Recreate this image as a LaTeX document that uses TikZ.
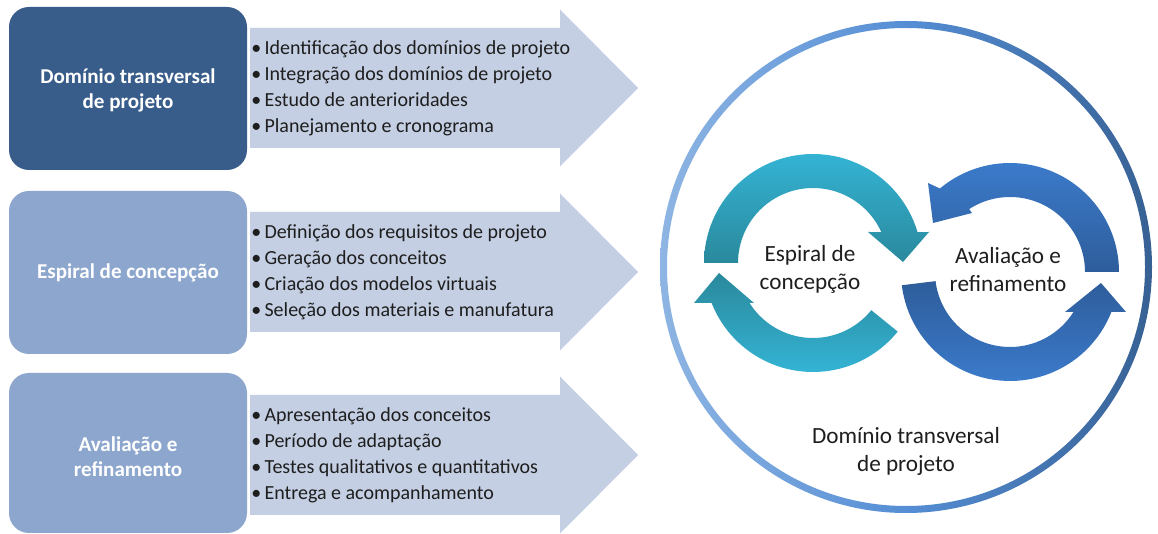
\documentclass[tikz,border=0pt]{standalone}
\usepackage{fontspec}
\setmainfont{Carlito}
\definecolor{boxdark}{HTML}{385D8A}
\definecolor{boxlight}{HTML}{8CA6CD}
\definecolor{arrowfill}{HTML}{C4CFE3}
\definecolor{cyanlight}{HTML}{34B3D4}
\definecolor{cyandark}{HTML}{2A899C}
\definecolor{bluelight}{HTML}{3B7ACA}
\definecolor{bluedark}{HTML}{2E5D9B}
\definecolor{ringlight}{HTML}{8EB5E3}
\definecolor{ringmid}{HTML}{558ED5}
\definecolor{ringdark}{HTML}{376194}
\definecolor{txt}{HTML}{1E1E1E}
\begin{document}
\begin{tikzpicture}[x=0.75pt,y=-0.75pt,
  boxtext/.style={text=white,font=\fontsize{15.8}{18.75}\selectfont\bfseries,align=center,inner sep=0pt},
  listtext/.style={text=txt,font=\fontsize{15}{19.5}\selectfont,align=left,inner sep=0pt,anchor=west},
  circtext/.style={text=txt,font=\fontsize{17.4}{21}\selectfont,align=center,inner sep=0pt},
  chevron/.style={fill=arrowfill}]
\path[fill=white] (0,0) rectangle (1158,534);
\useasboundingbox (0,0) rectangle (1158,534);

% chevron arrows
\foreach \c in {88,272,455}{
  \path[chevron] (250,{\c-60}) -- (560,{\c-60}) -- (560,{\c-78.5}) -- (638,\c)
     -- (560,{\c+78.5}) -- (560,{\c+60}) -- (250,{\c+60}) -- cycle;
}

% left boxes
\path[fill=boxdark, rounded corners=15pt] (9,7) rectangle (247,170);
\path[fill=boxlight, rounded corners=15pt] (9,191) rectangle (247,354);
\path[fill=boxlight, rounded corners=15pt] (9,373) rectangle (247,533);

\node[boxtext] (b1) at (128,90) {Domínio transversal\\de projeto};
\node[boxtext] (b2) at (128,273) {Espiral de concepção};
\node[boxtext] (b3) at (128,457) {Avaliação e\\refinamento};

\node[listtext] (l1) at (251,88.5) {•\,Identificação dos domínios de projeto\\•\,Integração dos domínios de projeto\\•\,Estudo de anterioridades\\•\,Planejamento e cronograma};
\node[listtext] (l2) at (251,272.5) {•\,Definição dos requisitos de projeto\\•\,Geração dos conceitos\\•\,Criação dos modelos virtuais\\•\,Seleção dos materiais e manufatura};
\node[listtext] (l3) at (251,455) {•\,Apresentação dos conceitos\\•\,Período de adaptação\\•\,Testes qualitativos e quantitativos\\•\,Entrega e acompanhamento};

% big circle ring
\path[left color=ringlight, right color=ringdark, middle color=ringmid, even odd rule]
  (906,267) circle[radius=246] (906,267) circle[radius=239];

% left ring arrows (cyan)
\path[top color=cyanlight, bottom color=cyandark]
  plot[domain=180:343.5,samples=50,variable=\t] ({813+109*cos(\t)},{263+109*sin(\t)})
  -- (929,232) -- (903,262) -- (868,232)
  -- plot[domain=335.6:180,samples=50,variable=\t] ({813+75*cos(\t)},{263+75*sin(\t)}) -- cycle;
\path[top color=cyandark, bottom color=cyanlight]
  plot[domain=39:158.5,samples=50,variable=\t] ({813+109*cos(\t)},{263+109*sin(\t)})
  -- (694,303) -- (719,273) -- (754,303)
  -- plot[domain=147.8:39,samples=50,variable=\t] ({813+75*cos(\t)},{263+75*sin(\t)}) -- cycle;

% right ring arrows (blue)
\path[top color=bluedark, bottom color=bluelight]
  plot[domain=173:21.5,samples=50,variable=\t] ({1010+109*cos(\t)},{272+109*sin(\t)})
  -- (1126,312) -- (1101,283) -- (1065,312)
  -- plot[domain=32.2:173,samples=50,variable=\t] ({1010+75*cos(\t)},{272+75*sin(\t)}) -- cycle;
\path[top color=bluelight, bottom color=bluedark]
  plot[domain=0:-130,samples=50,variable=\t] ({1010+109*cos(\t)},{272+109*sin(\t)})
  -- (928,183) -- (933,223) -- (972,213)
  -- plot[domain=-123:0,samples=50,variable=\t] ({1010+75*cos(\t)},{272+75*sin(\t)}) -- cycle;

\node[circtext] (c1) at (810,269.5) {Espiral de\\concepção};
\node[circtext] (c2) at (1008,269.5) {Avaliação e\\refinamento};
\node[circtext] (c3) at (906,451) {Domínio transversal\\de projeto};
\end{tikzpicture}
\end{document}
